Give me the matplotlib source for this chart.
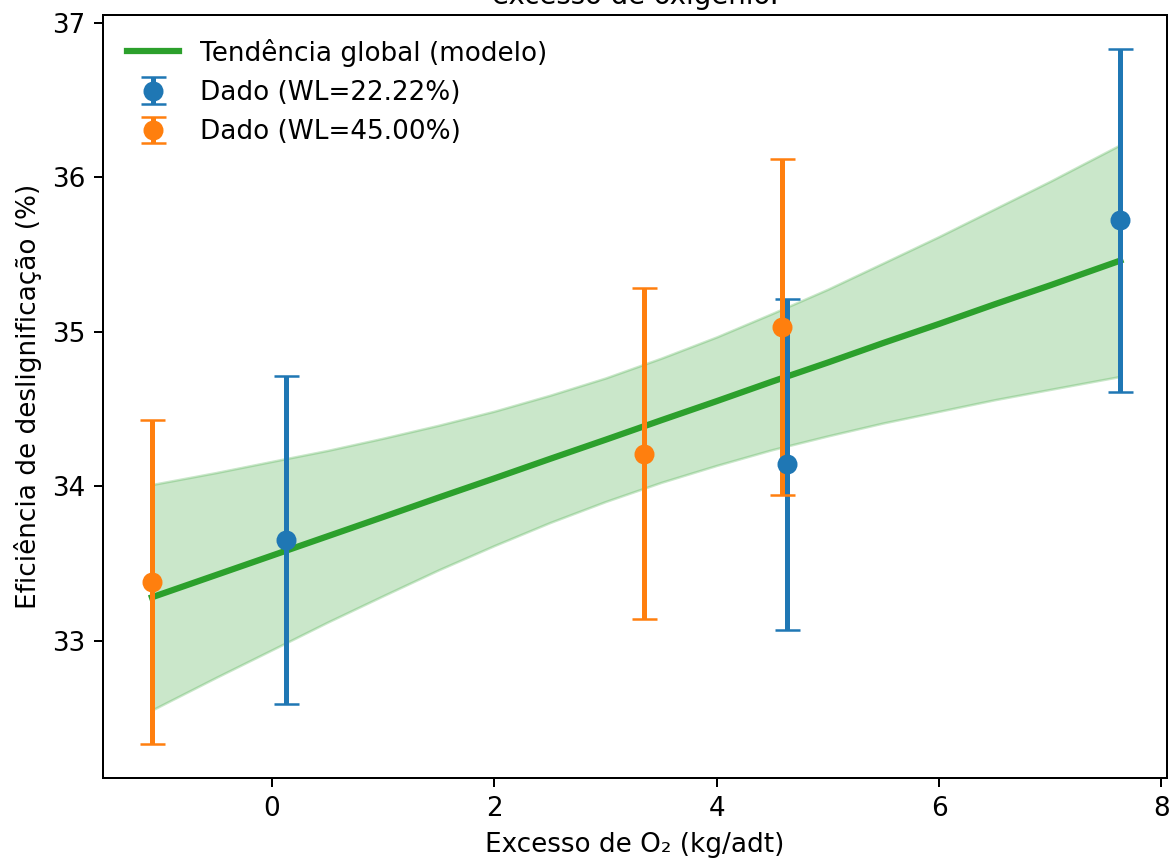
import matplotlib
matplotlib.use("Agg")
import matplotlib.pyplot as plt

plt.rcParams["font.size"] = 10.5

# measured points, one list per white liquor level
x_wl22 = [0.13, 4.63, 7.63]
y_wl22 = [33.65, 34.14, 35.72]
err_wl22 = [1.06, 1.07, 1.11]

x_wl45 = [-1.08, 3.35, 4.585]
y_wl45 = [33.38, 34.21, 35.03]
err_wl45 = [1.05, 1.07, 1.09]

# global model trend with its confidence band
x_fit = [-1.08, -0.5, 0, 0.5, 1, 1.5, 2, 2.5, 3, 3.5, 4, 4.5, 5, 5.5, 6, 6.5, 7, 7.63]
y_fit = [33.28, 33.425, 33.55, 33.675, 33.80, 33.926, 34.05, 34.176, 34.30,
         34.426, 34.55, 34.677, 34.80, 34.927, 35.05, 35.177, 35.30, 35.46]
y_up = [34.01, 34.088, 34.16, 34.231, 34.31, 34.394, 34.485, 34.588, 34.70,
        34.828, 34.966, 35.118, 35.275, 35.445, 35.616, 35.795, 35.974, 36.21]
y_lo = [32.55, 32.762, 32.94, 33.119, 33.29, 33.458, 33.615, 33.764, 33.90,
        34.024, 34.134, 34.236, 34.325, 34.409, 34.484, 34.559, 34.626, 34.71]

fig = plt.figure(figsize=(1172 / 180, 862 / 180), dpi=180)
ax = fig.add_axes([103 / 1172, 1 - 778 / 862, (1167 - 103) / 1172, (778 - 15) / 862])

ax.fill_between(x_fit, y_lo, y_up, color="tab:green", alpha=0.25)
ax.plot(x_fit, y_fit, color="tab:green", lw=2.5, label="Tendência global (modelo)")
ax.errorbar(x_wl22, y_wl22, yerr=err_wl22, fmt="o", color="tab:blue", capsize=5,
            lw=2, markersize=7, label="Dado (WL=22.22%)")
ax.errorbar(x_wl45, y_wl45, yerr=err_wl45, fmt="o", color="tab:orange", capsize=5,
            lw=2, markersize=7, label="Dado (WL=45.00%)")

ax.set_xticks([0, 2, 4, 6, 8])
ax.set_yticks([33, 34, 35, 36, 37])
ax.set_xlim(-1.52, 8.05)
ax.set_ylim(32.11, 37.05)
ax.set_xlabel("Excesso de O₂ (kg/adt)")
ax.set_ylabel("Eficiência de deslignificação (%)")
ax.set_title("Eficiência de deslignificação em função do\nexcesso de oxigênio.",
             fontsize=11, pad=4.5)
ax.legend(loc="upper left", frameon=False)

fig.savefig("out.png", dpi=180)
